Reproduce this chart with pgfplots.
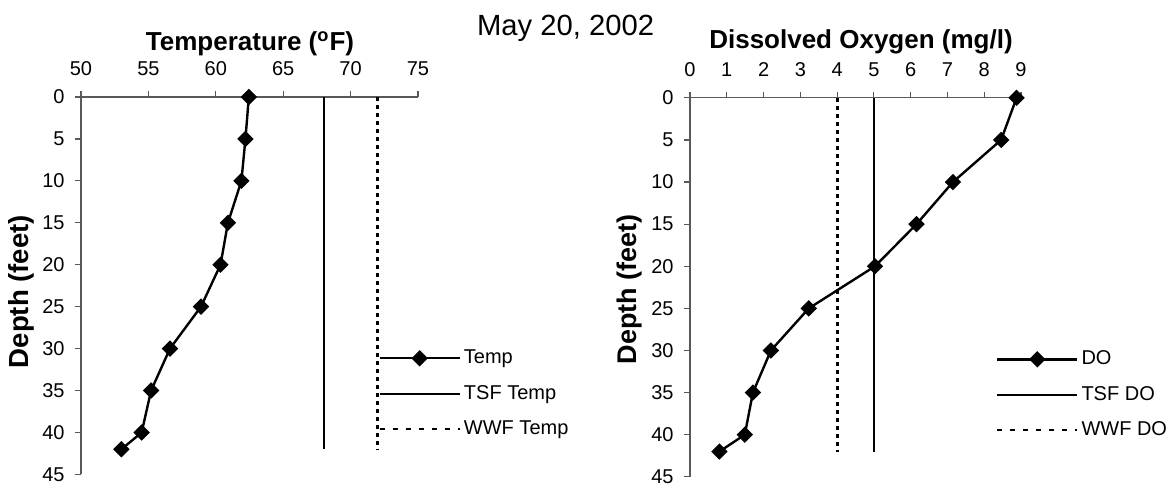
\documentclass[border=0pt]{standalone}
\usepackage{pgfplots}
\pgfplotsset{compat=1.18}
\usepackage{fontspec}
\setmainfont{Liberation Sans}

\pgfplotsset{
  profile/.style={
    scale only axis,
    anchor=north west,
    y dir=reverse,
    ymin=0, ymax=45,
    ytick={0,5,...,45},
    axis x line*=top,
    axis y line*=left,
    tick align=outside,
    major tick length=3bp,
    axis line style={black!65, line width=0.6bp},
    tick style={black!65, line width=0.6bp},
    ticklabel style={font=\fontsize{10bp}{12bp}\selectfont},
    /pgf/number format/assume math mode=true,
    xticklabel style={yshift=4bp},
    yticklabel style={xshift=-1.7bp},
    clip=false,
    legend cell align=left,
    legend style={draw=none, fill=none, anchor=north west,
      font=\fontsize{10bp}{12bp}\selectfont, row sep=8.2bp,
      nodes={inner xsep=1.5bp, inner ysep=0pt, text height=7.5bp, text depth=2bp}},
    legend image code/.code={\draw[mark repeat=2,mark phase=2] plot coordinates {(0bp,0bp) (20bp,0bp) (40bp,0bp)};},
  },
  obs/.style={black, line width=1.2bp, mark=square*, mark size=2.3bp, mark options={rotate=45, solid}},
  tsf/.style={black, line width=1bp, no markers},
  wwf/.style={black, line width=1.5bp, dash pattern=on 2bp off 2bp, no markers,
    legend image post style={line width=0.9bp, dash pattern=on 2.5bp off 4bp}},
}

\begin{document}
\begin{tikzpicture}
\path[use as bounding box] (0,0) rectangle (586.5bp,-242.5bp);

% temperature profile
\begin{axis}[profile,
  at={(40.5bp,-48.5bp)},
  width=168.5bp, height=188.7bp,
  xmin=50, xmax=75, xtick={50,55,...,75},
  legend style={at={(axis cs:71.6,29.5)}},
]
\addplot[obs] coordinates {
  (62.45,0) (62.2,5) (61.9,10) (60.9,15) (60.35,20) (58.9,25)
  (56.6,30) (55.2,35) (54.5,40) (53.0,42)};
\addlegendentry{Temp}
\addplot[tsf] coordinates {(68,0) (68,42)};
\addlegendentry{TSF Temp}
\addplot[wwf] coordinates {(72,0) (72,42)};
\addlegendentry{WWF Temp}
\end{axis}

% dissolved oxygen profile
\begin{axis}[profile,
  at={(345bp,-48.9bp)},
  width=165.5bp, height=189.5bp,
  xmin=0, xmax=9, xtick={0,1,...,9},
  legend style={at={(axis cs:8.15,29.4)}},
]
\addplot[obs] coordinates {
  (8.88,0) (8.46,5) (7.15,10) (6.16,15) (5.03,20) (3.23,25)
  (2.2,30) (1.71,35) (1.49,40) (0.8,42)};
\addlegendentry{DO}
\addplot[tsf] coordinates {(5,0) (5,42)};
\addlegendentry{TSF DO}
\addplot[wwf] coordinates {(4,0) (4,42)};
\addlegendentry{WWF DO}
\end{axis}

\node[anchor=base, font=\fontsize{14.6bp}{17bp}\selectfont] at (282.8bp,-17.5bp) {May 20, 2002};
\node[anchor=base, font=\bfseries\fontsize{13bp}{15bp}\selectfont] at (125bp,-25bp) {Temperature (\textsuperscript{o}F)};
\node[anchor=base, font=\bfseries\fontsize{13bp}{15bp}\selectfont] at (430.5bp,-24.2bp) {Dissolved Oxygen (mg/l)};
\node[rotate=90, font=\bfseries\fontsize{13.8bp}{16bp}\selectfont] at (10.7bp,-145.8bp) {Depth (feet)};
\node[rotate=90, font=\bfseries\fontsize{13.5bp}{16bp}\selectfont] at (315bp,-144.6bp) {Depth (feet)};
\end{tikzpicture}
\end{document}
